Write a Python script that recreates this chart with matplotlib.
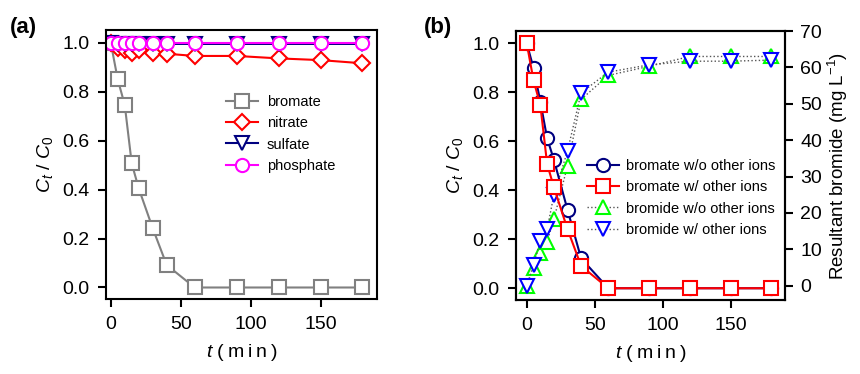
import matplotlib
matplotlib.use("Agg")
import matplotlib.pyplot as plt

plt.rcParams["font.family"] = ["Liberation Sans", "DejaVu Sans"]
plt.rcParams["mathtext.fontset"] = "custom"
plt.rcParams["mathtext.it"] = "Liberation Sans:italic"
plt.rcParams["mathtext.rm"] = "Liberation Sans"

# sampling times (min)
times = [0, 5, 10, 15, 20, 30, 40, 60, 90, 120, 150, 180]

# panel (a): Ct/C0 for each anion
bromate_a = [1.0, 0.85, 0.746, 0.507, 0.405, 0.242, 0.092, 0.0, 0.0, 0.0, 0.0, 0.0]
nitrate_a = [1.0, 0.98, 0.97, 0.96, 0.97, 0.96, 0.955, 0.946, 0.946, 0.936, 0.929, 0.916]
sulfate_a = [1.0, 0.995, 0.995, 0.995, 0.995, 0.995, 0.995, 0.995, 0.995, 0.995, 0.995, 0.995]
phosphate_a = [1.0, 1.0, 1.0, 1.0, 1.0, 1.0, 1.0, 1.0, 1.0, 1.0, 1.0, 1.0]

# panel (b): bromate Ct/C0 and bromide formed (mg/L)
bromate_wo = [1.0, 0.898, 0.762, 0.612, 0.524, 0.32, 0.122, 0.0, 0.0, 0.0, 0.0, 0.0]
bromate_w = [1.0, 0.848, 0.748, 0.507, 0.412, 0.241, 0.091, 0.0, 0.0, 0.0, 0.0, 0.0]
bromide_wo = [0.0, 4.8, 8.9, 12.1, 18.3, 33.0, 51.2, 57.8, 60.3, 63.0, 63.0, 63.0]
bromide_w = [0.0, 5.7, 12.4, 15.5, 25.0, 37.0, 53.0, 58.7, 60.7, 61.7, 61.7, 62.0]

W, H = 860, 374
fig = plt.figure(figsize=(8.6, 3.74), dpi=100)


def ax_rect(left, top, right, bottom):
    return [left / W, 1 - bottom / H, (right - left) / W, (bottom - top) / H]


ax_a = fig.add_axes(ax_rect(106, 30, 377, 299))
ax_b = fig.add_axes(ax_rect(516, 31, 785, 300))

mk = dict(markerfacecolor="white", markersize=9.5, markeredgewidth=1.5, linewidth=1.5)
TICK = dict(direction="out", length=6, width=1.5, labelsize=14, pad=6)


def style_axis(ax):
    for s in ax.spines.values():
        s.set_linewidth(1.5)
    ax.tick_params(top=False, right=False, **TICK)
    ax.set_xlim(-3.4, 190.4)
    ax.set_xticks([0, 50, 100, 150])
    ax.set_yticks([0, 0.2, 0.4, 0.6, 0.8, 1.0])
    ax.set_yticklabels([f"{v:.1f}" for v in [0, 0.2, 0.4, 0.6, 0.8, 1.0]])
    ax.set_xlabel("$t$ (\u2009m\u2009i\u2009n\u2009)", fontsize=14, labelpad=7)
    ax.set_ylabel("$C_t$ / $C_0$", fontsize=14, labelpad=5)


# (a)
ax_a.plot(times, bromate_a, marker="s", color="#808080", markeredgecolor="#808080", label="bromate", **mk)
ax_a.plot(times, nitrate_a, marker="D", color="#ff0000", markeredgecolor="#ff0000", label="nitrate",
          **{**mk, "markersize": 8.5})
ax_a.plot(times, sulfate_a, marker="v", color="#000080", markeredgecolor="#000080", label="sulfate", **mk)
ax_a.plot(times, phosphate_a, marker="o", color="#ff00ff", markeredgecolor="#ff00ff", label="phosphate", **mk)
style_axis(ax_a)
ax_a.set_ylim(-0.047, 1.052)
ax_a.legend(loc="upper left", bbox_to_anchor=(226 / W, 1 - 95 / H), bbox_transform=fig.transFigure,
            frameon=False, fontsize=10.5, handlelength=2.2, handletextpad=0.6, labelspacing=0.5,
            borderaxespad=0, borderpad=0)

# (b)
ax_r = ax_b.twinx()
l1, = ax_b.plot(times, bromate_wo, marker="o", color="#000080", markeredgecolor="#000080",
                label="bromate w/o other ions", **mk)
l2, = ax_b.plot(times, bromate_w, marker="s", color="#ff0000", markeredgecolor="#ff0000",
                label="bromate w/ other ions", **mk)
dot = dict(markerfacecolor="white", markersize=10, markeredgewidth=1.5, linewidth=1.0,
           linestyle=":", color="#555555")
l3, = ax_r.plot(times, bromide_wo, marker="^", markeredgecolor="#00ff00",
                label="bromide w/o other ions", **dot)
l4, = ax_r.plot(times, bromide_w, marker="v", markeredgecolor="#0000ff",
                label="bromide w/ other ions", **dot)
style_axis(ax_b)
ax_b.set_xlim(-7.9, 190)
ax_b.set_ylim(-0.048, 1.05)
ax_b.set_zorder(ax_r.get_zorder() + 1)
ax_b.patch.set_visible(False)
ax_r.set_ylim(-3.94, 70)
ax_r.set_yticks(range(0, 71, 10))
ax_r.tick_params(**{**TICK, "pad": 5})
ax_r.set_ylabel("Resultant bromide (mg L$^{\u22121}$)", fontsize=13.5, labelpad=3)
for s in ax_r.spines.values():
    s.set_linewidth(1.5)
ax_b.legend(handles=[l1, l2, l3, l4], loc="upper left", bbox_to_anchor=(587 / W, 1 - 159 / H),
            bbox_transform=fig.transFigure, frameon=False, fontsize=10.5, handlelength=2.2,
            handletextpad=0.5, labelspacing=0.5, borderaxespad=0, borderpad=0)

fig.text(10 / W, 1 - 33 / H, "(a)", fontsize=16, fontweight="bold")
fig.text(424 / W, 1 - 33 / H, "(b)", fontsize=16, fontweight="bold")

fig.savefig("out.png", dpi=100)
